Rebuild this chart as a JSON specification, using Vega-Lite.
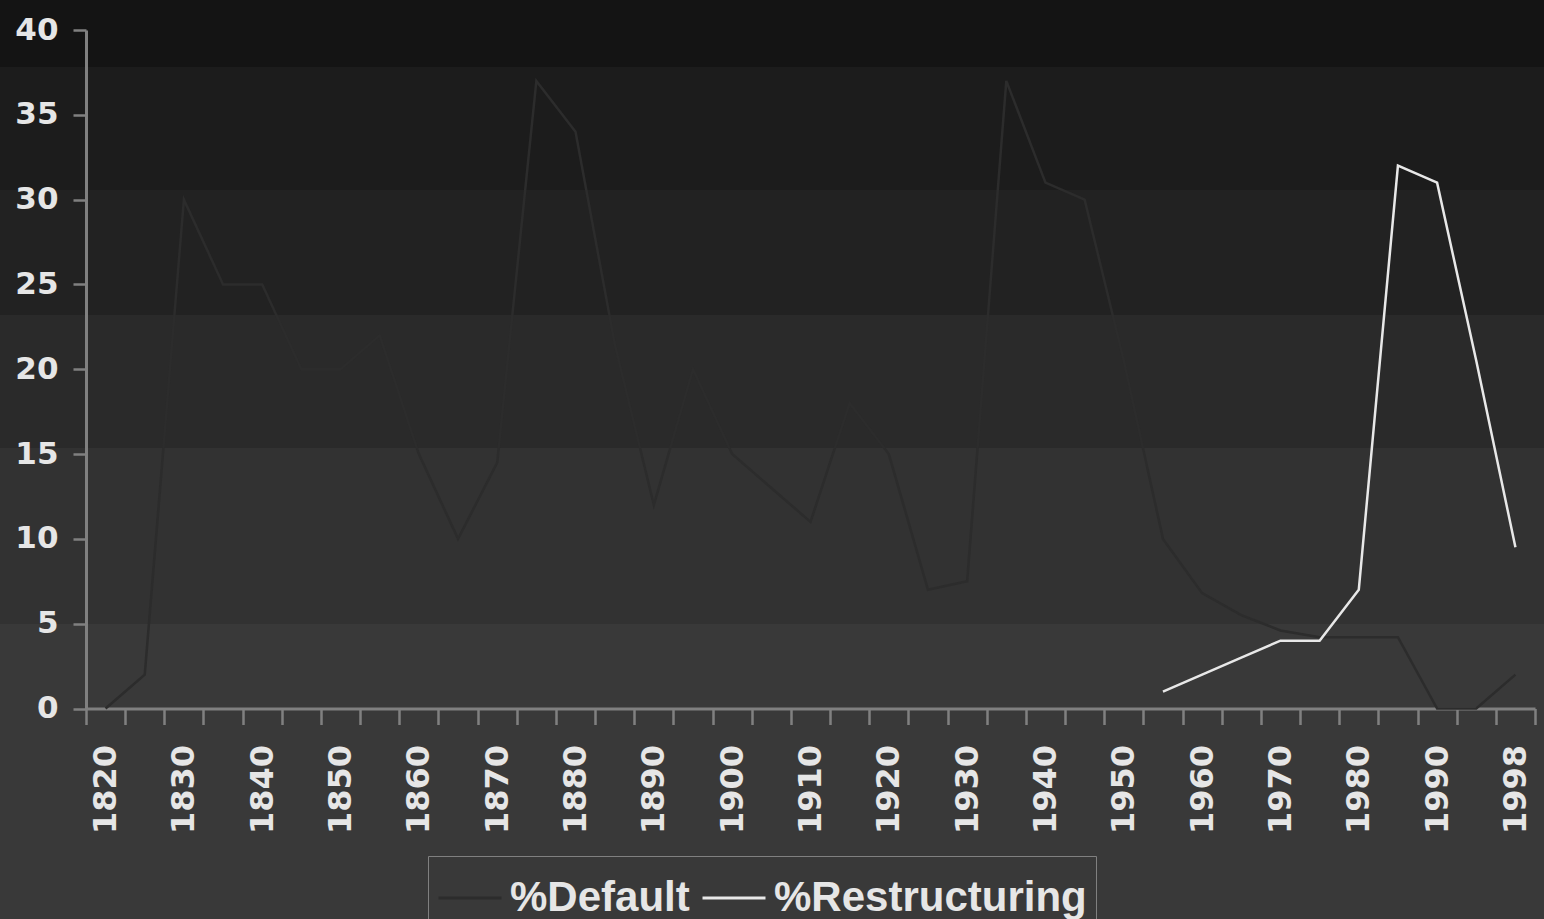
{
  "$schema": "https://vega.github.io/schema/vega-lite/v6.json",
  "width": 1544,
  "height": 919,
  "autosize": {"type": "none"},
  "padding": 0,
  "background": "#393939",
  "config": {
    "view": {
      "stroke": null,
      "fill": {
        "gradient": "linear", "x1": 0, "y1": 0, "x2": 0, "y2": 1,
        "stops": [
          {"offset": 0, "color": "#141414"},
          {"offset": 0.0729, "color": "#141414"},
          {"offset": 0.0729, "color": "#1c1c1c"},
          {"offset": 0.2067, "color": "#1c1c1c"},
          {"offset": 0.2067, "color": "#222222"},
          {"offset": 0.3428, "color": "#222222"},
          {"offset": 0.3428, "color": "#2a2a2a"},
          {"offset": 0.4875, "color": "#2a2a2a"},
          {"offset": 0.4875, "color": "#323232"},
          {"offset": 0.679, "color": "#323232"},
          {"offset": 0.679, "color": "#393939"},
          {"offset": 1, "color": "#393939"}
        ]
      }
    }
  },
  "data": {
    "values": [
      {"year": 1820, "series": "%Default", "value": 0},
      {"year": 1825, "series": "%Default", "value": 2},
      {"year": 1830, "series": "%Default", "value": 30},
      {"year": 1835, "series": "%Default", "value": 25},
      {"year": 1840, "series": "%Default", "value": 25},
      {"year": 1845, "series": "%Default", "value": 20},
      {"year": 1850, "series": "%Default", "value": 20},
      {"year": 1855, "series": "%Default", "value": 22},
      {"year": 1860, "series": "%Default", "value": 15},
      {"year": 1865, "series": "%Default", "value": 10},
      {"year": 1870, "series": "%Default", "value": 14.5},
      {"year": 1875, "series": "%Default", "value": 37},
      {"year": 1880, "series": "%Default", "value": 34},
      {"year": 1885, "series": "%Default", "value": 21.5},
      {"year": 1890, "series": "%Default", "value": 12},
      {"year": 1895, "series": "%Default", "value": 20},
      {"year": 1900, "series": "%Default", "value": 15},
      {"year": 1905, "series": "%Default", "value": 13},
      {"year": 1910, "series": "%Default", "value": 11},
      {"year": 1915, "series": "%Default", "value": 18},
      {"year": 1920, "series": "%Default", "value": 15},
      {"year": 1925, "series": "%Default", "value": 7},
      {"year": 1930, "series": "%Default", "value": 7.5},
      {"year": 1935, "series": "%Default", "value": 37},
      {"year": 1940, "series": "%Default", "value": 31},
      {"year": 1945, "series": "%Default", "value": 30},
      {"year": 1950, "series": "%Default", "value": 20.5},
      {"year": 1955, "series": "%Default", "value": 10},
      {"year": 1960, "series": "%Default", "value": 6.8},
      {"year": 1965, "series": "%Default", "value": 5.5},
      {"year": 1970, "series": "%Default", "value": 4.6},
      {"year": 1975, "series": "%Default", "value": 4.2},
      {"year": 1980, "series": "%Default", "value": 4.2},
      {"year": 1985, "series": "%Default", "value": 4.2},
      {"year": 1990, "series": "%Default", "value": 0},
      {"year": 1995, "series": "%Default", "value": 0},
      {"year": 1998, "series": "%Default", "value": 2},
      {"year": 1955, "series": "%Restructuring", "value": 1},
      {"year": 1960, "series": "%Restructuring", "value": 2},
      {"year": 1965, "series": "%Restructuring", "value": 3},
      {"year": 1970, "series": "%Restructuring", "value": 4},
      {"year": 1975, "series": "%Restructuring", "value": 4},
      {"year": 1980, "series": "%Restructuring", "value": 7},
      {"year": 1985, "series": "%Restructuring", "value": 32},
      {"year": 1990, "series": "%Restructuring", "value": 31},
      {"year": 1995, "series": "%Restructuring", "value": 20.5},
      {"year": 1998, "series": "%Restructuring", "value": 9.5}
    ]
  },
  "mark": {"type": "line", "strokeWidth": 2.5},
  "encoding": {
    "x": {
      "field": "year", "type": "ordinal",
      "scale": {"type": "band", "paddingInner": 0, "paddingOuter": 0, "range": [86, 1535]},
      "axis": {
        "title": null, "domain": true, "domainColor": "#808080", "domainWidth": 3,
        "grid": false, "tickBand": "extent",
        "tickSize": 16, "tickWidth": 2.5, "tickColor": "#808080",
        "labelAngle": -90, "labelAlign": "right", "labelBaseline": "middle",
        "labelFont": "DejaVu Sans", "labelFontWeight": "bold", "labelFontSize": 32,
        "labelColor": "#e6e6e6", "labelPadding": 20, "labelOverlap": false,
        "labelExpr": "(datum.value % 10 === 0 || datum.value === 1998) ? ('' + datum.value) : ''",
        "offset": -210.5
      }
    },
    "y": {
      "field": "value", "type": "quantitative",
      "scale": {"domain": [0, 40], "nice": false, "zero": false, "range": [708.5, 30]},
      "axis": {
        "title": null, "domain": true, "domainColor": "#808080", "domainWidth": 3,
        "grid": false,
        "values": [0, 5, 10, 15, 20, 25, 30, 35, 40],
        "tickSize": 13, "tickWidth": 2.5, "tickColor": "#808080",
        "labelFont": "DejaVu Sans", "labelFontWeight": "bold", "labelFontSize": 31,
        "labelColor": "#e6e6e6", "labelPadding": 15,
        "offset": -86
      }
    },
    "color": {
      "field": "series", "type": "nominal",
      "scale": {"domain": ["%Default", "%Restructuring"], "range": ["#2c2c2c", "#e8e8e8"]},
      "legend": {
        "title": null, "orient": "none", "legendX": 428, "legendY": 856,
        "direction": "horizontal", "symbolType": "stroke", "symbolSize": 3969,
        "symbolStrokeWidth": 3, "labelFont": "Liberation Sans", "labelFontWeight": "bold",
        "labelFontSize": 42,
        "labelColor": "#e6e6e6", "labelOffset": 7, "columnPadding": 6,
        "padding": 9, "strokeColor": "#808080", "labelLimit": 0
      }
    }
  }
}
